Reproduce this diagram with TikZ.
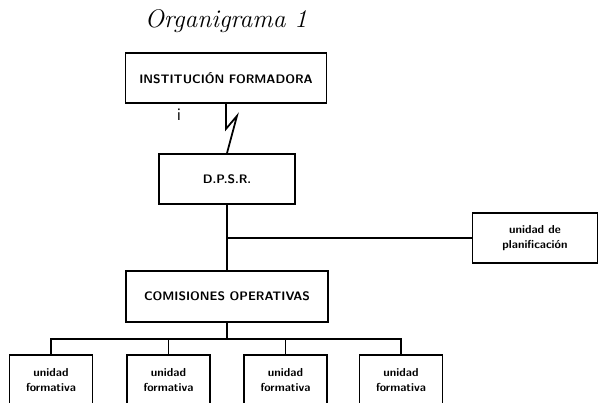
\documentclass[tikz,border=0pt]{standalone}
\usepackage{tikz}
\usetikzlibrary{calc}

\begin{document}
\begin{tikzpicture}[x=0.02cm, y=-0.02cm,
  caja/.style={draw, line width=1pt, align=center, inner sep=0pt,
    font=\sffamily\bfseries\fontsize{7}{8}\selectfont},
  cajita/.style={caja, font=\sffamily\bfseries\fontsize{6.6}{8.5}\selectfont},
  enlace/.style={line width=1pt}]

\useasboundingbox (0,0) rectangle (600,403);
\clip (0,0) rectangle (600,403);

\node[anchor=base, font=\itshape\fontsize{14.5}{16}\selectfont] (titulo) at (226,27) {Organigrama 1};

\node[caja, minimum width=4.02cm, minimum height=1cm] (inst) at (226,78) {INSTITUCIÓN FORMADORA};
\node[caja, minimum width=2.72cm, minimum height=1cm] (dpsr) at (227,179) {D.P.S.R.};
\node[cajita, minimum width=2.5cm, minimum height=1cm] (plan) at (535,238) {unidad de\\planificación};
\node[caja, minimum width=4.04cm, minimum height=1.02cm] (com) at (227,296.5) {COMISIONES OPERATIVAS};
\node[font=\sffamily\fontsize{10}{10}\selectfont] (marca) at (179,115) {i};

\node[cajita, minimum width=1.66cm, minimum height=1cm] (u1) at (51,380) {unidad\\formativa};
\node[cajita, minimum width=1.66cm, minimum height=1cm] (u2) at (168.5,380) {unidad\\formativa};
\node[cajita, minimum width=1.66cm, minimum height=1cm] (u3) at (285.5,380) {unidad\\formativa};
\node[cajita, minimum width=1.66cm, minimum height=1cm] (u4) at (401,380) {unidad\\formativa};

% enlace quebrado
\draw[enlace] (inst.south) -- ++(0,25) -- ++(11,-13) -- (dpsr.north);

\draw[enlace] (dpsr.south) -- (com.north);
\coordinate (rama) at (dpsr.south |- plan.west);
\draw[line width=0.7pt] (rama) -- (plan.west);

\coordinate (bus) at ($(com.south)+(0,16)$);
\draw[enlace] (com.south) -- (bus);
\draw[enlace] (u1.north) -- (u1.north |- bus) -- (u4.north |- bus) -- (u4.north);
\foreach \u in {u2,u3}
  \draw[enlace] (\u.north) -- (\u.north |- bus);

\end{tikzpicture}
\end{document}
